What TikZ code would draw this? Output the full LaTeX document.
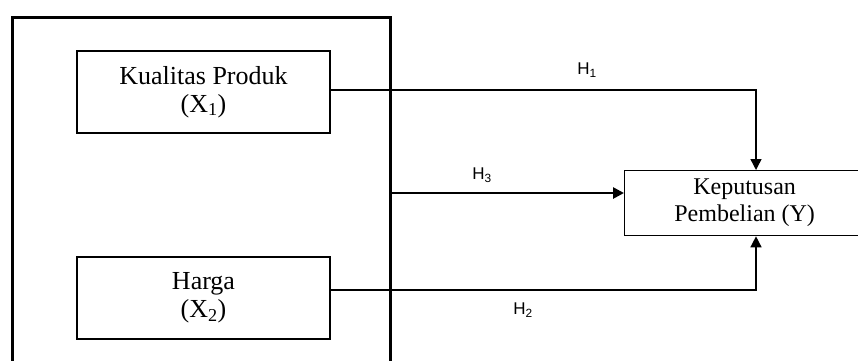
\documentclass[tikz,border=0pt]{standalone}
\usepackage{fontspec}
\setmainfont{Liberation Serif}
\newfontfamily\hfont{Liberation Sans}
\usetikzlibrary{arrows.meta,positioning}
\begin{document}
\begin{tikzpicture}[x=1pt,y=-1pt,
  varbox/.style={draw, line width=1.3pt, minimum width=253pt, minimum height=82pt,
    align=center, inner sep=0pt, font=\fontsize{26}{30}\selectfont},
  ybox/.style={draw, line width=1.3pt, minimum width=240pt, minimum height=65pt,
    align=center, inner sep=0pt, font=\fontsize{24}{27}\selectfont, anchor=north west},
  frame/.style={draw, line width=2.6pt, minimum width=378pt, minimum height=380pt,
    anchor=north west, inner sep=0pt},
  hlab/.style={font=\hfont\fontsize{17}{18}\selectfont, inner sep=0pt},
  link/.style={line width=1.4pt},
  tip/.style={-{Triangle[length=11pt,width=11pt]}},
]
\useasboundingbox (0,0) rectangle (858,360);

% outer grouping frame (its bottom edge runs past the page)
\node[frame] (grp) at (11,16) {};

% independent variables
\node[varbox] (x1) at (203.5,92) {Kualitas Produk\\[-2pt](X\textsubscript{1})};
\node[varbox] (x2) at (203.5,298) {Harga\\[-2pt](X\textsubscript{2})};

% dependent variable (runs past the right edge)
\node[ybox] (y) at (624,170) {Keputusan\\Pembelian (Y)};

% corner points of the routed links
\coordinate (c1) at (756,90);
\coordinate (c2) at (756,290);
\coordinate (g3) at (grp.east |- 0,193);

% hypotheses
\draw[link,tip] (x1.east |- c1) -- (c1) -- (c1 |- y.north);
\draw[link,tip] (x2.east |- c2) -- (c2) -- (c2 |- y.south);
\draw[line width=2.6pt,tip] (g3) -- (y.west |- g3);

\node[hlab] (h1) at (587,70) {H\textsubscript{1}};
\node[hlab] (h3) at (482,175) {H\textsubscript{3}};
\node[hlab] (h2) at (523,310) {H\textsubscript{2}};
\end{tikzpicture}
\end{document}
